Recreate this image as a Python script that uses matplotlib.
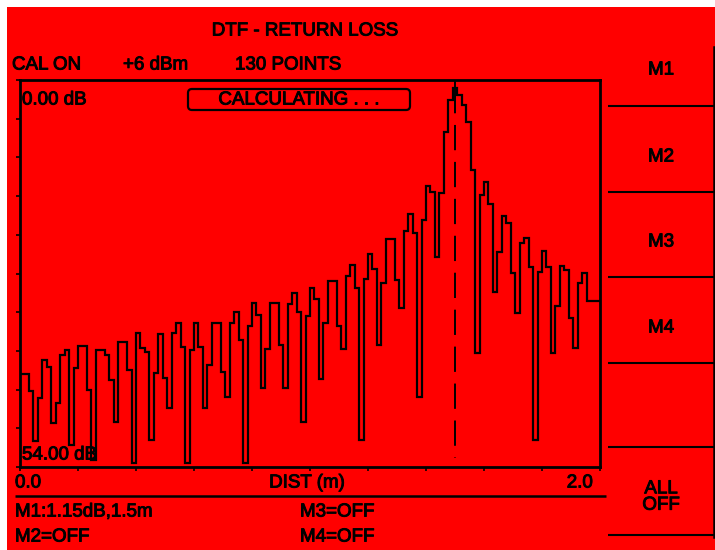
import numpy as np
import matplotlib
matplotlib.use("Agg")
import matplotlib.pyplot as plt
from matplotlib.patches import Rectangle, FancyBboxPatch
import matplotlib.patheffects as pe

# ---------------- data ----------------
dist_start = 0.0
dist_stop = 2.0
n_points = 130
return_loss_db = [
    41.0, 41.0, 43.4, 50.4, 44.4, 39.1, 40.0, 47.9, 45.1, 38.4,
    37.7, 50.9, 40.2, 37.1, 37.1, 43.3, 53.0, 37.7, 37.7, 38.4,
    41.9, 47.7, 36.6, 36.6, 40.5, 53.4, 35.3, 37.4, 38.0, 50.2,
    40.9, 35.4, 41.6, 45.8, 35.3, 33.9, 37.3, 53.4, 37.7, 33.9,
    37.3, 45.8, 39.8, 33.9, 33.9, 40.7, 44.2, 33.9, 32.4, 36.3,
    53.4, 34.3, 31.1, 32.8, 43.0, 37.5, 31.1, 31.1, 37.0, 43.0,
    31.3, 29.7, 32.4, 47.7, 32.9, 29.0, 30.6, 41.7, 33.9, 28.0,
    28.0, 34.3, 37.5, 27.3, 25.8, 29.0, 50.2, 27.8, 24.3, 26.4,
    37.0, 28.3, 22.2, 22.2, 27.9, 31.8, 21.1, 18.7, 21.3, 44.2,
    19.5, 14.8, 15.6, 24.7, 15.8, 7.3, 2.8, 1.15, 2.1, 3.5,
    5.9, 12.6, 38.1, 16.0, 14.2, 17.3, 29.6, 24.0, 19.0, 20.0,
    26.9, 32.5, 22.7, 22.0, 26.1, 50.2, 26.8, 23.9, 26.1, 38.1,
    31.5, 26.0, 26.5, 33.2, 37.4, 28.3, 26.9, 30.8, 30.8, 30.8,
]
ref_top_db = 0.0
ref_bottom_db = 54.0
marker_dist = 1.5
marker_db = 1.15

header_labels = ["CAL ON", "+6 dBm", "130 POINTS"]
softkeys = ["M1", "M2", "M3", "M4", "", "ALL\nOFF"]
marker_readouts = ["M1:1.15dB,1.5m", "M2=OFF", "M3=OFF", "M4=OFF"]

# ---------------- figure ----------------
W, H = 715, 550
RED = "#ff0000"
FONT = "Liberation Sans"
FS = 13.5
THICK = [pe.withStroke(linewidth=0.7, foreground="black")]

fig = plt.figure(figsize=(W / 100, H / 100), dpi=100)
fig.patch.set_facecolor("white")

ov = fig.add_axes([0, 0, 1, 1])
ov.set_xlim(0, W)
ov.set_ylim(H, 0)
ov.axis("off")
ov.add_patch(Rectangle((7, 7), W - 7, H - 7, color=RED, zorder=0, lw=0))

# plot area in pixels
px_l, px_r, px_t, px_b = 20, 600, 80, 467
ax = fig.add_axes([px_l / W, 1 - px_b / H, (px_r - px_l) / W, (px_b - px_t) / H])
ax.set_facecolor("none")

edges = np.linspace(dist_start, dist_stop, n_points + 1)
ax.stairs(return_loss_db, edges, baseline=None, color="black", lw=1.6)

# marker
ax.plot([marker_dist, marker_dist], [ref_top_db, marker_db], color="black", lw=1.4)
ax.plot([marker_dist, marker_dist], [marker_db, 52.7], color="black", lw=1.4,
        linestyle=(0, (13, 6)))

ax.set_xlim(dist_start, dist_stop)
ax.set_ylim(ref_bottom_db, ref_top_db)
ax.set_xticks(np.linspace(dist_start, dist_stop, 11))
ax.set_yticks(np.linspace(ref_top_db, ref_bottom_db, 11))
ax.set_xticklabels([])
ax.set_yticklabels([])
ax.tick_params(axis="both", direction="out", length=3, width=1.2, color="black")
for s in ax.spines.values():
    s.set_linewidth(2.0)
    s.set_color("black")

def txt(x, y, s, ha="left", **kw):
    ov.text(x, y, s, ha=ha, va="center", fontsize=FS, family=FONT,
            color="black", zorder=5, path_effects=THICK, **kw)

# header
txt(305, 31, "DTF - RETURN LOSS", ha="center")
txt(12, 65, header_labels[0])
txt(123, 65, header_labels[1])
txt(235, 65, header_labels[2])

# in-plot labels
txt(22, 100, f"{ref_top_db:.2f} dB")
txt(22, 455, f"{ref_bottom_db:.2f} dB")
ov.add_patch(FancyBboxPatch((188, 89), 222, 21,
                            boxstyle="round,pad=0,rounding_size=4",
                            fc="none", ec="black", lw=1.6, zorder=4))
txt(299, 100, "CALCULATING . . .", ha="center")

# x axis labels
txt(15, 483, f"{dist_start:.1f}")
txt(307, 483, "DIST (m)", ha="center")
txt(593, 483, f"{dist_stop:.1f}", ha="right")
ov.plot([15, 606], [496, 496], color="black", lw=1.8, solid_capstyle="butt")

# marker readouts
txt(15, 512, marker_readouts[0])
txt(15, 537, marker_readouts[1])
txt(300, 512, marker_readouts[2])
txt(300, 537, marker_readouts[3])

# right softkey panel
ov.plot([713.5, 713.5], [47, 537], color="black", lw=1.8)
key_centers = [70, 157, 242, 328, 405, 497]
sep_y = [106, 192, 277, 363, 447, 535]
for lab, cy in zip(softkeys, key_centers):
    if lab:
        txt(661, cy, lab, ha="center", linespacing=0.95)
for y in sep_y:
    ov.plot([608, 714], [y, y], color="black", lw=1.5, solid_capstyle="butt")

fig.savefig("out.png", dpi=100, facecolor=fig.get_facecolor())
